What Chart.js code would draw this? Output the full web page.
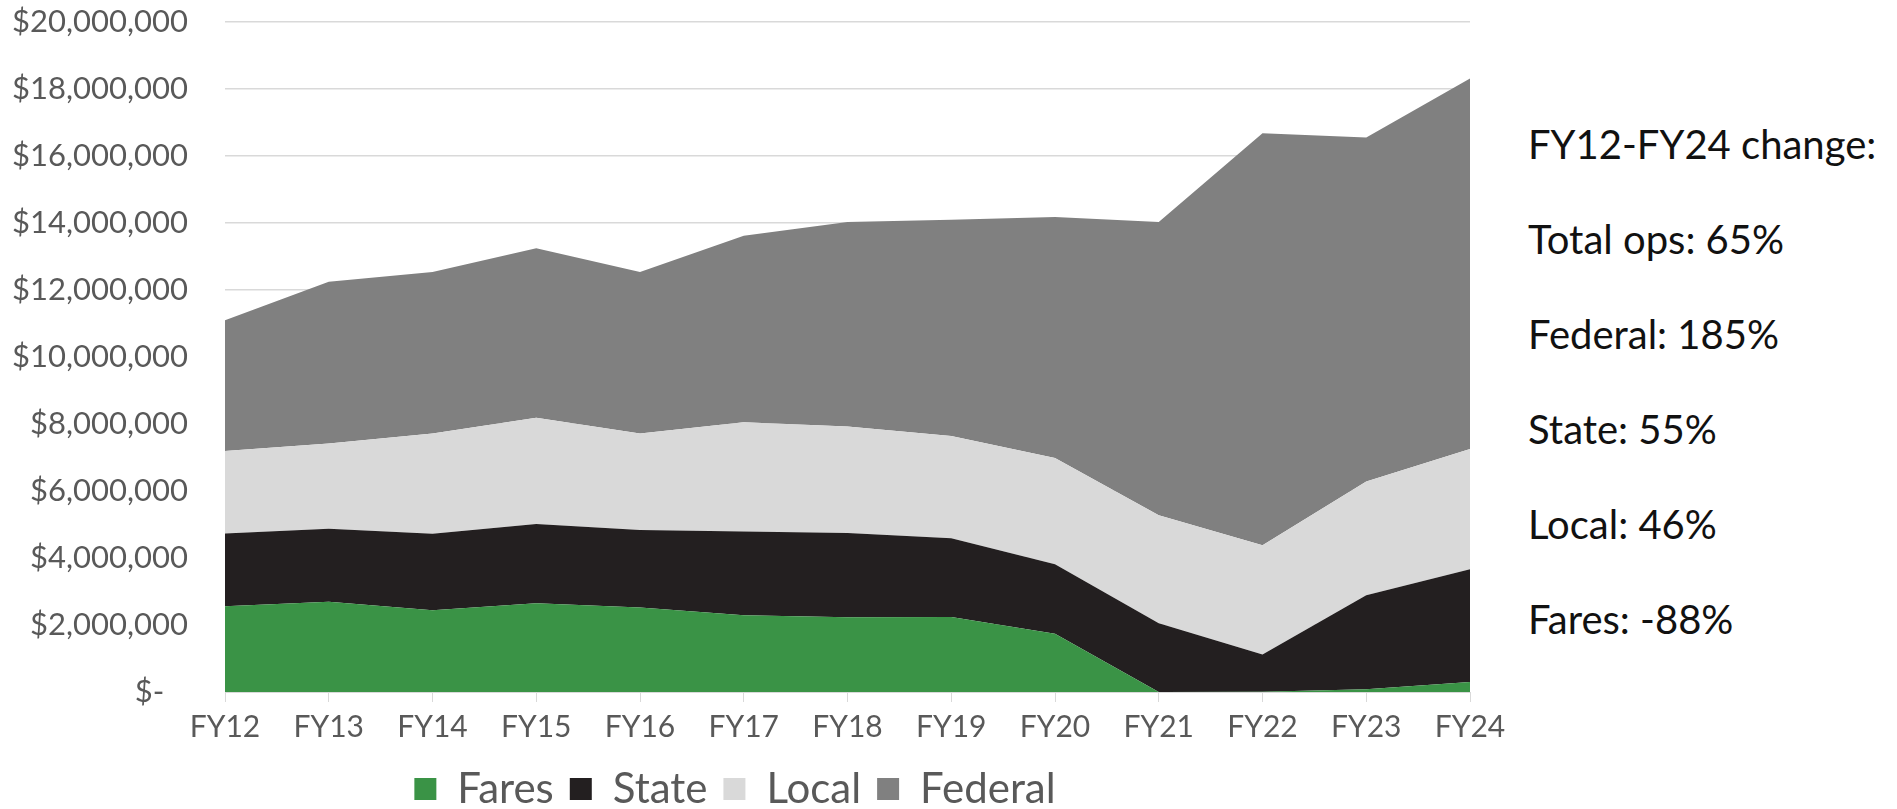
<!DOCTYPE html>
<html>
<head>
<meta charset="utf-8">
<script src="https://cdn.jsdelivr.net/npm/chart.js@4"></script>
<style>
  html, body { margin: 0; padding: 0; background: #fff; overflow: hidden; }
  #wrap { position: relative; width: 1897px; height: 809px; overflow: hidden; }
  #chartBox { position: absolute; left: 0; top: 0; width: 1528px; height: 820px; }
  #notes { position: absolute; left: 1528px; top: 97px; font-family: Lato, sans-serif; font-size: 40px; line-height: 95px; color: #111; white-space: nowrap; }
</style>
</head>
<body>
<div id="wrap">
  <div id="chartBox"><canvas id="opsChart"></canvas></div>
  <div id="notes">
    <div>FY12-FY24 change:</div>
    <div>Total ops: 65%</div>
    <div>Federal: 185%</div>
    <div>State: 55%</div>
    <div>Local: 46%</div>
    <div>Fares: -88%</div>
  </div>
</div>
<script>
const years = ['FY12', 'FY13', 'FY14', 'FY15', 'FY16', 'FY17', 'FY18', 'FY19', 'FY20', 'FY21', 'FY22', 'FY23', 'FY24'];
const fares   = [2560000, 2690000, 2440000, 2650000, 2520000, 2290000, 2230000, 2240000, 1740000, 0, 10000, 80000, 300000];
const state   = [2170000, 2180000, 2280000, 2360000, 2310000, 2500000, 2510000, 2350000, 2070000, 2050000, 1110000, 2810000, 3360000];
const local   = [2460000, 2540000, 2990000, 3170000, 2880000, 3260000, 3180000, 3050000, 3170000, 3220000, 3260000, 3390000, 3590000];
const federal = [3900000, 4830000, 4820000, 5060000, 4820000, 5560000, 6100000, 6450000, 7190000, 8750000, 12290000, 10260000, 11050000];

const axisGrey = '#595959';
const gridGrey = '#d9d9d9';

const mkSet = (label, data, color, fill) => ({
    label, data, fill,
    backgroundColor: color, borderColor: color,
    borderWidth: 0, pointRadius: 0, tension: 0
});

const ctx = document.getElementById('opsChart').getContext('2d');
new Chart(ctx, {
    type: 'line',
    data: {
        labels: years,
        datasets: [
            mkSet('Fares', fares, '#3a9346', 'origin'),
            mkSet('State', state, '#231f20', '-1'),
            mkSet('Local', local, '#d9d9d9', '-1'),
            mkSet('Federal', federal, '#808080', '-1')
        ]
    },
    options: {
        responsive: true,
        maintainAspectRatio: false,
        animation: false,
        layout: { padding: { left: 0, right: 58, top: 0, bottom: 0 } },
        plugins: {
            tooltip: { enabled: false },
            legend: {
                position: 'bottom',
                labels: {
                    color: axisGrey,
                    font: { family: 'Lato', size: 42 },
                    boxWidth: 22, boxHeight: 22, padding: 16
                }
            }
        },
        scales: {
            x: {
                grid: { drawOnChartArea: false, drawTicks: true, tickLength: 10, color: gridGrey },
                border: { color: gridGrey },
                ticks: { color: axisGrey, font: { family: 'Lato', size: 30 }, padding: 7, maxRotation: 0 }
            },
            y: {
                stacked: true,
                min: 0, max: 20000000,
                grid: { color: gridGrey, lineWidth: 1.5, drawTicks: true, tickLength: 34, tickColor: 'rgba(0,0,0,0)' },
                border: { display: false },
                ticks: {
                    stepSize: 2000000,
                    color: axisGrey,
                    font: { family: 'Lato', size: 31 },
                    padding: 3,
                    callback: v => v === 0 ? '$-   ' : '$' + v.toLocaleString('en-US')
                },
                afterFit: s => { s.width = 225; }
            }
        }
    }
});
</script>
</body>
</html>
